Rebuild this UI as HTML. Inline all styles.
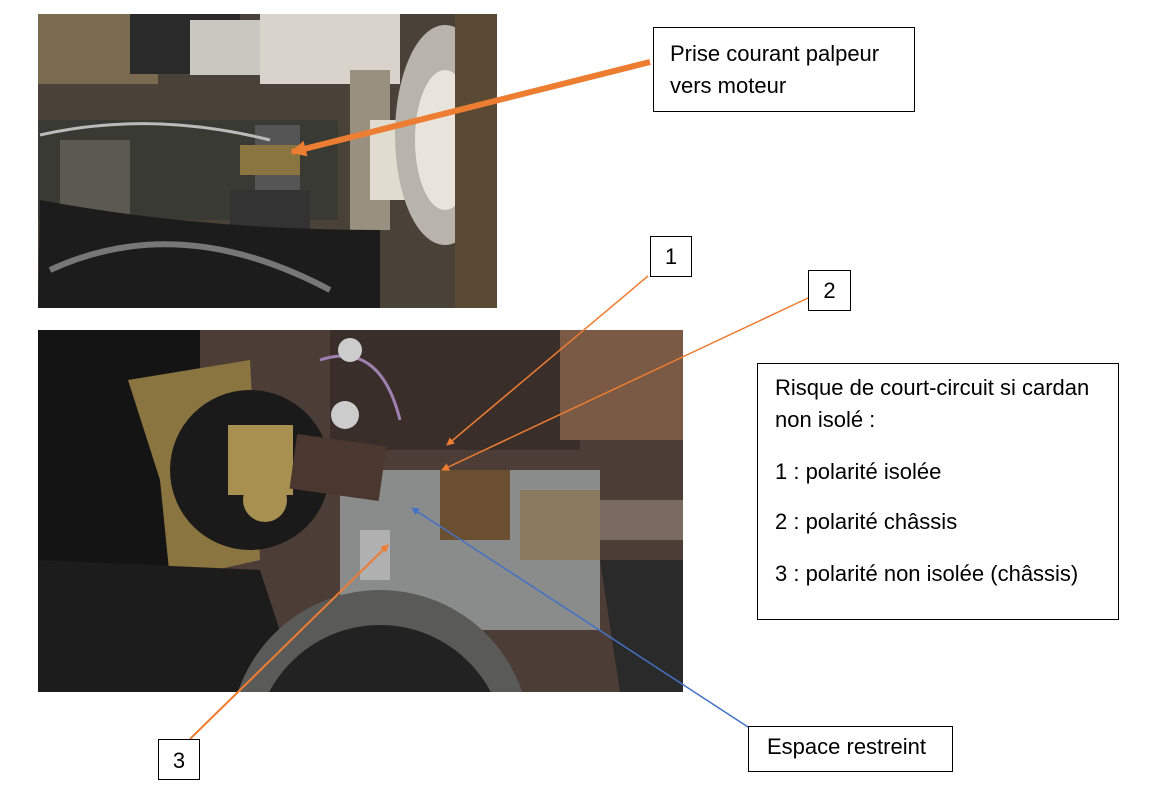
<!DOCTYPE html>
<html style="overflow:hidden"><head><meta charset="utf-8"><style>
html,body{margin:0;background:#fff;width:1154px;height:796px;overflow:hidden;font-family:"Liberation Sans",Calibri,sans-serif;}
.box{position:absolute;border:1.5px solid #000;background:#fff;box-sizing:border-box;font-size:22px;color:#000;overflow:hidden;white-space:nowrap;}
</style></head><body>
<svg width="1154" height="796" style="position:absolute;left:0;top:0;display:block">
<defs>
<clipPath id="c1"><rect x="38" y="14" width="459" height="294"/></clipPath>
<clipPath id="c2"><rect x="38" y="330" width="645" height="362"/></clipPath>
<marker id="ao" markerWidth="8" markerHeight="8" refX="7" refY="4" orient="auto" markerUnits="userSpaceOnUse"><path d="M0,0L8,4L0,8z" fill="#ed7d31"/></marker>
<marker id="ab" markerWidth="8" markerHeight="8" refX="7" refY="4" orient="auto" markerUnits="userSpaceOnUse"><path d="M0,0L8,4L0,8z" fill="#4472c4"/></marker>
<marker id="aO" markerWidth="16" markerHeight="16" refX="14" refY="8" orient="auto" markerUnits="userSpaceOnUse"><path d="M0,0L16,8L0,16z" fill="#ed7d31"/></marker>
</defs>
<g clip-path="url(#c1)">
<rect x="38" y="14" width="459" height="294" fill="#4a4238"/>
<rect x="38" y="14" width="120" height="70" fill="#7a6a50"/>
<rect x="130" y="14" width="110" height="60" fill="#2a2a2a"/>
<rect x="190" y="20" width="70" height="55" fill="#c8c8c0"/>
<rect x="260" y="14" width="140" height="70" fill="#d8d4cc"/>
<rect x="38" y="120" width="300" height="100" fill="#3a3a34"/>
<rect x="60" y="140" width="70" height="80" fill="#5a5a50"/>
<rect x="255" y="125" width="45" height="70" fill="#555"/>
<rect x="240" y="145" width="60" height="30" fill="#8a7440"/>
<rect x="230" y="190" width="80" height="40" fill="#333"/>
<rect x="350" y="70" width="40" height="160" fill="#9a9080"/>
<rect x="370" y="120" width="40" height="80" fill="#e0dcd0"/>
<ellipse cx="445" cy="135" rx="50" ry="110" fill="#b8b4ac"/>
<ellipse cx="445" cy="140" rx="30" ry="70" fill="#e8e4dc"/>
<rect x="455" y="14" width="42" height="294" fill="#5a4a34"/>
<path d="M40 200 Q200 230 380 230 L380 308 L38 308z" fill="#1c1c1c"/>
<path d="M50 270 Q180 210 330 290" stroke="#777" stroke-width="6" fill="none"/>
<path d="M40 135 Q150 110 270 140" stroke="#bbb" stroke-width="3" fill="none"/>
</g>
<g clip-path="url(#c2)">
<rect x="38" y="330" width="645" height="362" fill="#4c3e36"/>
<rect x="330" y="330" width="250" height="120" fill="#3a2e2a"/>
<rect x="560" y="330" width="123" height="110" fill="#7a5a44"/>
<path d="M320 360 Q380 340 400 420" stroke="#a080b0" stroke-width="3" fill="none"/>
<path d="M38 330 L200 330 L200 620 L38 620z" fill="#141414"/>
<path d="M128 380 L250 360 L260 560 L170 580 L160 480z" fill="#8a7440"/>
<circle cx="250" cy="470" r="80" fill="#1a1a1a"/>
<rect x="340" y="470" width="260" height="160" fill="#8a8c8c"/>
<rect x="228" y="425" width="65" height="70" fill="#a89050"/>
<circle cx="350" cy="350" r="12" fill="#ccc"/>
<circle cx="345" cy="415" r="14" fill="#ccc"/>
<circle cx="265" cy="500" r="22" fill="#a89050"/>
<rect x="293" y="440" width="90" height="55" fill="#4a3830" transform="rotate(8 338 467)"/>
<rect x="440" y="470" width="70" height="70" fill="#6a5030"/>
<rect x="520" y="490" width="80" height="70" fill="#8a7a60"/>
<rect x="600" y="500" width="83" height="40" fill="#7a6a60"/>
<rect x="360" y="530" width="30" height="50" fill="#b0b0b0"/>
<path d="M38 560 L260 570 L300 692 L38 692z" fill="#1c1c1c"/>
<circle cx="380" cy="740" r="150" fill="#5a5a58"/>
<circle cx="380" cy="750" r="125" fill="#222"/>
<path d="M600 560 L683 560 L683 692 L620 692z" fill="#2a2a2a"/>
</g>
<line x1="650" y1="62" x2="292" y2="152" stroke="#ed7d31" stroke-width="6" marker-end="url(#aO)"/>
<line x1="648" y1="276" x2="447" y2="445" stroke="#ed7d31" stroke-width="1.5" marker-end="url(#ao)"/>
<line x1="808" y1="298" x2="442" y2="470" stroke="#ed7d31" stroke-width="1.5" marker-end="url(#ao)"/>
<line x1="190" y1="739" x2="388" y2="545" stroke="#ed7d31" stroke-width="2" marker-end="url(#ao)"/>
<line x1="748" y1="727" x2="412" y2="508" stroke="#4472c4" stroke-width="1.5" marker-end="url(#ab)"/>
</svg>
<div class="box" style="left:653px;top:27px;width:262px;height:85px;padding:10px 0 0 16px;line-height:32px">Prise courant palpeur<br>vers moteur</div>
<div class="box" style="left:650px;top:236px;width:42px;height:41px;text-align:center;line-height:40px">1</div>
<div class="box" style="left:808px;top:270px;width:43px;height:41px;text-align:center;line-height:40px">2</div>
<div class="box" style="left:158px;top:739px;width:42px;height:41px;text-align:center;line-height:42px">3</div>
<div class="box" style="left:748px;top:726px;width:205px;height:46px;padding:7px 0 0 18px">Espace restreint</div>
<div class="box" style="left:757px;top:363px;width:362px;height:257px;padding:8px 0 0 17px;line-height:32px">Risque de court-circuit si cardan<br>non isolé :<div style="height:20px"></div>1 : polarité isolée<div style="height:18px"></div>2 : polarité châssis<div style="height:20px"></div>3 : polarité non isolée (châssis)</div>
</body></html>
